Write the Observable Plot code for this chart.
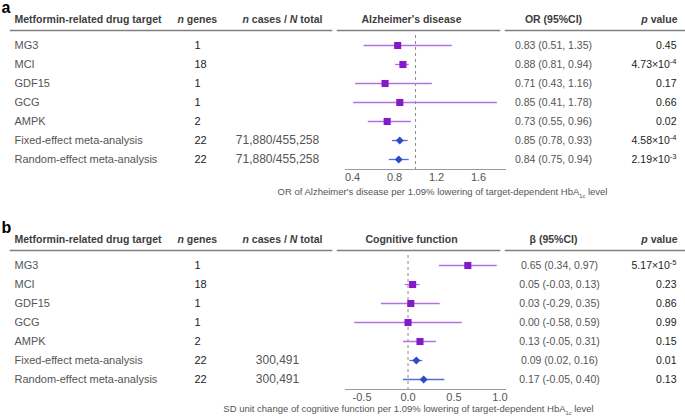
<!DOCTYPE html>
<html>
<head>
<meta charset="utf-8">
<script src="https://cdn.jsdelivr.net/npm/d3@7"></script>
<script src="https://cdn.jsdelivr.net/npm/@observablehq/plot@0.6"></script>
<style>
  html, body { margin: 0; padding: 0; background: #fff; }
  #chart { width: 685px; }
  #chart svg { display: block; }
</style>
</head>
<body>
<div id="chart"></div>
<script>
// ---- Data ----
const targets = ["MG3", "MCI", "GDF15", "GCG", "AMPK", "Fixed-effect meta-analysis", "Random-effect meta-analysis"];
const kinds = ["target", "target", "target", "target", "target", "meta", "meta"];
const nGenes = ["1", "18", "1", "1", "2", "22", "22"];

// Panel a: Alzheimer's disease
const adCases = ["", "", "", "", "", "71,880/455,258", "71,880/455,258"];
const adOR = [0.83, 0.88, 0.71, 0.85, 0.73, 0.85, 0.84];
const adLo = [0.51, 0.81, 0.43, 0.41, 0.55, 0.78, 0.75];
const adHi = [1.35, 0.94, 1.16, 1.78, 0.96, 0.93, 0.94];
const adP = ["0.45", "4.73×10^{-4}", "0.17", "0.66", "0.02", "4.58×10^{-4}", "2.19×10^{-3}"];
const adTicks = [0.4, 0.8, 1.2, 1.6];

// Panel b: Cognitive function
const cfCases = ["", "", "", "", "", "300,491", "300,491"];
const cfBeta = [0.65, 0.05, 0.03, 0.00, 0.13, 0.09, 0.17];
const cfLo = [0.34, -0.03, -0.29, -0.58, -0.05, 0.02, -0.05];
const cfHi = [0.97, 0.13, 0.35, 0.59, 0.31, 0.16, 0.40];
const cfP = ["5.17×10^{-5}", "0.23", "0.86", "0.99", "0.15", "0.01", "0.13"];
const cfTicks = [-0.5, 0.0, 0.5, 1.0];

const headerTarget = "Metformin-related drug target";
const headerGenes = "*n* genes";
const headerCases = "*n* cases / *N* total";
const headerP = "*p* value";

// ---- Styling ----
const FONT = "'Liberation Sans', Arial, Helvetica, sans-serif";
const C = {
  sq: "#8419C6", sqLine: "#B272E6",
  dia: "#2C4BCB", diaLine: "#4F6DDB",
  head: "#3d3d3d", text: "#555", dark: "#222", rule: "#808080", axis: "#9a9a9a", ref: "#8c8c8c"
};

function rows(cases, est, lo, hi, p) {
  return targets.map((t, i) => ({
    target: t, kind: kinds[i], genes: nGenes[i], cases: cases[i],
    est: est[i], lo: lo[i], hi: hi[i], p: p[i],
    ci: `${est[i].toFixed(2)} (${lo[i].toFixed(2)}, ${hi[i].toFixed(2)})`
  }));
}

// rich text: *italic*, _{sub}, ^{sup}
function rich(svg) {
  const NS = "http://www.w3.org/2000/svg";
  svg.querySelectorAll("text").forEach(t => {
    const s = t.textContent;
    if (!/\*|_\{|\^\{/.test(s)) return;
    while (t.firstChild) t.removeChild(t.firstChild);
    const re = /\*([^*]+)\*|_\{([^}]+)\}|\^\{([^}]+)\}/g;
    let last = 0, m;
    const add = (txt, attrs) => {
      const ts = document.createElementNS(NS, "tspan");
      ts.textContent = txt;
      for (const k in attrs) ts.setAttribute(k, attrs[k]);
      t.appendChild(ts);
    };
    while ((m = re.exec(s))) {
      if (m.index > last) add(s.slice(last, m.index), {});
      if (m[1]) add(m[1], {"font-style": "italic"});
      else if (m[2]) add(m[2], {"baseline-shift": "sub", "font-size": "60%"});
      else if (m[3]) add(m[3], {"baseline-shift": "super", "font-size": "72%"});
      last = re.lastIndex;
    }
    if (last < s.length) add(s.slice(last), {});
  });
}

function panel(cfg) {
  const data = rows(cfg.cases, cfg.est, cfg.lo, cfg.hi, cfg.p);
  const tg = data.filter(d => d.kind === "target");
  const mt = data.filter(d => d.kind === "meta");
  const svg = Plot.plot({
    width: 685,
    height: cfg.height,
    marginLeft: 345,
    marginRight: 180,
    marginTop: 35,
    marginBottom: cfg.marginBottom,
    style: {fontFamily: FONT, background: "#fff", overflow: "visible"},
    x: {domain: cfg.domain, label: null},
    y: {type: "point", domain: targets, padding: 0.5, axis: null},
    marks: [
      // panel letter
      Plot.text([cfg.letter], {frameAnchor: "top-left", dx: -344, dy: -34, textAnchor: "start",
        fontWeight: "bold", fontSize: 16, fill: "#000"}),
      // headers
      Plot.text([headerTarget], {frameAnchor: "top-left", dx: -331, dy: -20, textAnchor: "start",
        fontWeight: "bold", fontSize: 10.5, fill: C.head}),
      Plot.text([headerGenes], {frameAnchor: "top-left", dx: -168, dy: -20, textAnchor: "start",
        fontWeight: "bold", fontSize: 10.5, fill: C.head}),
      Plot.text([headerCases], {frameAnchor: "top-left", dx: -63, dy: -20, textAnchor: "middle",
        fontWeight: "bold", fontSize: 10.5, fill: C.head}),
      Plot.text([cfg.outcome], {frameAnchor: "top", dx: -14, dy: -20, textAnchor: "middle",
        fontWeight: "bold", fontSize: 10.5, fill: C.head}),
      Plot.text([cfg.estHeader], {frameAnchor: "top-right", dx: 48, dy: -20, textAnchor: "middle",
        fontWeight: "bold", fontSize: 10.5, fill: C.head}),
      Plot.text([headerP], {frameAnchor: "top-right", dx: 172, dy: -20, textAnchor: "end",
        fontWeight: "bold", fontSize: 10.5, fill: C.head}),
      // header rules
      Plot.frame({anchor: "top", dy: -5, insetLeft: -335, insetRight: 174, stroke: C.rule, strokeWidth: 1.6}),
      Plot.frame({anchor: "top", dy: -5, insetLeft: -8, insetRight: 6, stroke: C.rule, strokeWidth: 1.6}),
      Plot.frame({anchor: "top", dy: -5, insetLeft: 160, insetRight: -180, stroke: C.rule, strokeWidth: 1.6}),
      // table columns
      Plot.text(data, {y: "target", text: "target", frameAnchor: "left", dx: -331, textAnchor: "start",
        fontSize: 11, fill: C.text}),
      Plot.text(data, {y: "target", text: "genes", frameAnchor: "left", dx: -151, textAnchor: "start",
        fontSize: 11, fill: C.dark}),
      Plot.text(data, {y: "target", text: "cases", frameAnchor: "left", dx: -68, textAnchor: "middle",
        fontSize: 12, fill: C.text}),
      Plot.text(data, {y: "target", text: "ci", frameAnchor: "right", dx: cfg.ciDx, textAnchor: "middle",
        fontSize: 10.5, fill: C.text}),
      Plot.text(data, {y: "target", text: "p", frameAnchor: "right", dx: 171, textAnchor: "end",
        fontSize: 10.5, fill: C.dark}),
      // reference line
      Plot.ruleX([cfg.ref], {stroke: C.ref, strokeDasharray: "3,3", strokeWidth: 1}),
      // x axis
      Plot.frame({anchor: "bottom", stroke: C.axis, strokeWidth: 1.2}),
      Plot.axisX({ticks: cfg.ticks, tickSize: 0, tickPadding: 4, tickFormat: d => d.toFixed(1),
        fontSize: 11, fill: C.text, label: null}),
      Plot.text([cfg.title], {frameAnchor: "bottom", dx: cfg.titleDx, dy: cfg.titleDy, textAnchor: "middle",
        fontSize: 9.5, fill: C.text}),
      // confidence intervals
      Plot.ruleY(tg, {y: "target", x1: "lo", x2: "hi", stroke: C.sqLine, strokeWidth: 1.3}),
      Plot.ruleY(mt, {y: "target", x1: "lo", x2: "hi", stroke: C.diaLine, strokeWidth: 1.3}),
      // point estimates
      Plot.dot(tg, {x: "est", y: "target", symbol: "square", r: 4, fill: C.sq, stroke: "none"}),
      Plot.dot(mt, {x: "est", y: "target", symbol: "diamond2", r: 3.6, fill: C.dia, stroke: "none"})
    ]
  });
  rich(svg);
  return svg;
}

const chart = document.getElementById("chart");
chart.appendChild(panel({
  letter: "a", height: 220, marginBottom: 51,
  cases: adCases, est: adOR, lo: adLo, hi: adHi, p: adP,
  domain: [0.333, 1.857], ticks: adTicks, ref: 1,
  outcome: "Alzheimer's disease", estHeader: "OR (95%CI)", ciDx: 48,
  title: "OR of Alzheimer's disease per 1.09% lowering of target-dependent HbA_{1c} level", titleDx: 17, titleDy: 25
}));
chart.appendChild(panel({
  letter: "b", height: 197, marginBottom: 28,
  cases: cfCases, est: cfBeta, lo: cfLo, hi: cfHi, p: cfP,
  domain: [-0.68, 1.06], ticks: cfTicks, ref: 0,
  outcome: "Cognitive function", estHeader: "β (95%CI)", ciDx: 54,
  title: "SD unit change of cognitive function per 1.09% lowering of target-dependent HbA_{1c} level", titleDx: -17, titleDy: 22
}));
</script>
</body>
</html>
